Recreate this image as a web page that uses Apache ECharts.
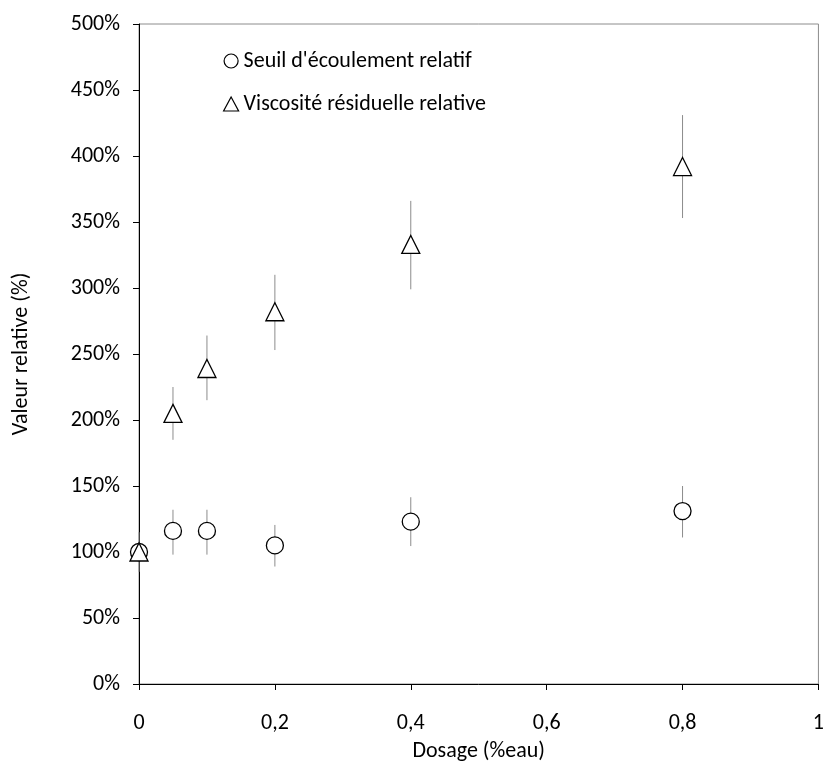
<!DOCTYPE html>
<html>
<head>
<meta charset="utf-8">
<script src="https://cdn.jsdelivr.net/npm/echarts@6/dist/echarts.min.js"></script>
<style>html,body{margin:0;padding:0;background:#fff}#c{width:827px;height:767px}</style>
</head>
<body>
<div id="c"></div>
<script>
const dosage = [0, 0.05, 0.1, 0.2, 0.4, 0.8];
const seuil = [100, 116, 116, 105, 123, 131];
const seuilLow = [85, 98, 98, 89, 104.5, 111];
const seuilHigh = [115, 132, 132, 120.5, 141.5, 150];
const visco = [100, 205, 239, 282, 333, 392];
const viscoLow = [100, 185, 215, 253, 299, 353];
const viscoHigh = [100, 225, 264, 310, 366, 431];
const seriesNames = ["Seuil d'écoulement relatif", "Viscosité résiduelle relative"];

const FONT = 'Carlito, "Liberation Sans", sans-serif';
const FS = 22;

function pts(ys){ return dosage.map((x,i)=>[x, ys[i]]); }
function errData(lo, hi){ return dosage.map((x,i)=>[x, lo[i], hi[i]]); }

function errRender(params, api){
  const x = api.value(0), lo = api.value(1), hi = api.value(2);
  const p1 = api.coord([x, lo]), p2 = api.coord([x, hi]);
  return {type:'line', shape:{x1:p1[0], y1:p1[1], x2:p2[0], y2:p2[1]},
    style:{stroke:'#8c8c8c', lineWidth:1}};
}

const chart = echarts.init(document.getElementById('c'), null, {renderer:'canvas'});
chart.setOption({
  animation:false,
  backgroundColor:'#fff',
  grid:{left:139, right:5, top:24, bottom:78, show:true, borderColor:'#8c8c8c', borderWidth:1},
  legend:{
    orient:'vertical', left:218, top:45, itemGap:21, itemWidth:15, itemHeight:14,
    itemStyle:{borderWidth:1.2},
    textStyle:{fontFamily:FONT, fontSize:FS, color:'#000'},
    data:[{name:seriesNames[0], icon:'circle'},{name:seriesNames[1], icon:'triangle'}]
  },
  xAxis:{
    type:'value', min:0, max:1, interval:0.2,
    name:'Dosage (%eau)', nameLocation:'middle', nameGap:56,
    nameTextStyle:{fontFamily:FONT, fontSize:FS, color:'#000'},
    axisLine:{lineStyle:{color:'#000', width:1}},
    axisTick:{show:true, inside:false, length:6, lineStyle:{color:'#000'}},
    axisLabel:{fontFamily:FONT, fontSize:FS, color:'#000', margin:28,
      formatter:v=>String(v).replace('.', ',')},
    splitLine:{show:false}
  },
  yAxis:{
    type:'value', min:0, max:500, interval:50,
    name:'Valeur relative (%)', nameLocation:'middle', nameGap:107, nameRotate:90,
    nameTextStyle:{fontFamily:FONT, fontSize:FS, color:'#000'},
    axisLine:{show:true, lineStyle:{color:'#000', width:1}},
    axisTick:{show:true, inside:false, length:6, lineStyle:{color:'#000'}},
    axisLabel:{fontFamily:FONT, fontSize:FS, color:'#000', margin:19, formatter:v=>v+'%'},
    splitLine:{show:false}
  },
  series:[
    {type:'custom', name:'errSeuil', renderItem:errRender, data:errData(seuilLow, seuilHigh), z:1, silent:true},
    {type:'custom', name:'errVisco', renderItem:errRender, data:errData(viscoLow, viscoHigh), z:1, silent:true},
    {type:'scatter', name:seriesNames[0], data:pts(seuil), symbol:'circle', symbolSize:17, z:3,
      itemStyle:{color:'#fff', borderColor:'#000', borderWidth:1.3, opacity:1}},
    {type:'scatter', name:seriesNames[1], data:pts(visco), symbol:'triangle', symbolSize:[18,18], z:4,
      itemStyle:{color:'#fff', borderColor:'#000', borderWidth:1.3, opacity:1}}
  ]
});
</script>
</body>
</html>
